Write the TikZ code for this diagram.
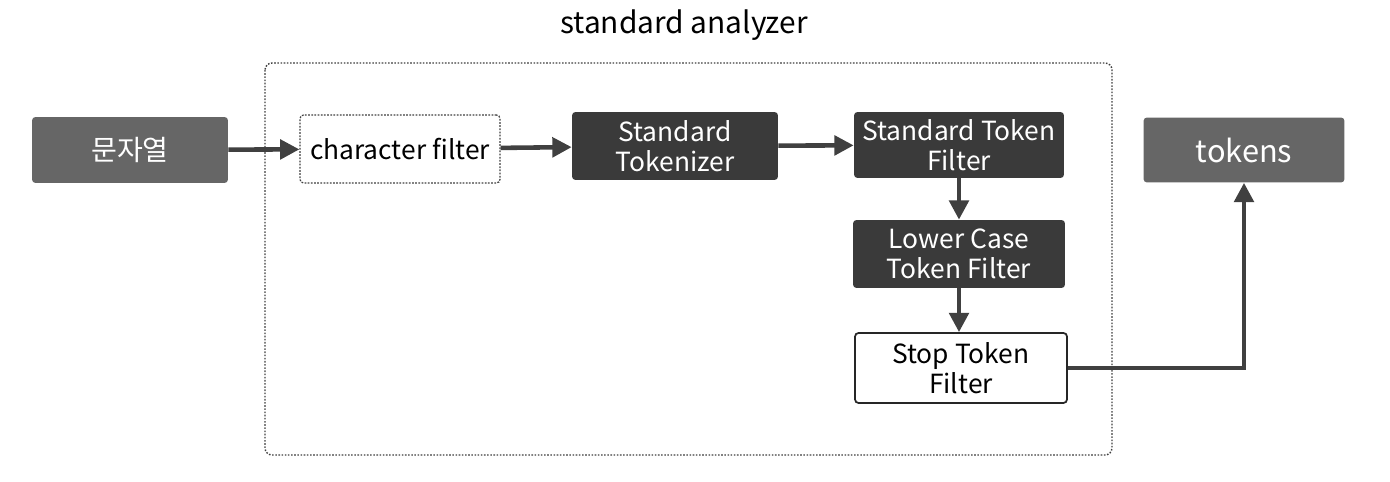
\documentclass[tikz,border=0pt]{standalone}
\usepackage{fontspec}
\setmainfont{Noto Sans CJK KR}
\usetikzlibrary{arrows.meta}
\definecolor{midgray}{HTML}{666666}
\definecolor{darkbox}{HTML}{3A3A3A}
\definecolor{linegray}{HTML}{404040}
\tikzset{
  box/.style={rounded corners=2pt, align=center, inner sep=0pt, font=\fontsize{15}{17.2}\selectfont},
  graybox/.style={box, fill=midgray, text=white},
  darkbx/.style={box, fill=darkbox, text=white},
  dotbox/.style={box, draw=linegray, line width=0.7pt, dash pattern=on 1pt off 0.8pt, fill=white},
  whitebox/.style={box, draw=black!85, line width=1pt, fill=white},
  flow/.style={draw=linegray, line width=2.6pt, -{Triangle[length=11pt,width=11pt]}},
}
\begin{document}
\begin{tikzpicture}[x=0.02cm,y=-0.02cm]
\useasboundingbox[fill=white] (0,0) rectangle (1390,482);
\draw[linegray, line width=0.8pt, dash pattern=on 0.9pt off 0.9pt, rounded corners=4pt] (265,63) rectangle (1112,455);
\node[font=\fontsize{17}{18}\selectfont] (title) at (684,25) {standard analyzer};
\node[graybox, font=\fontsize{16}{17}\selectfont, minimum width=3.92cm, minimum height=1.32cm] (str) at (130,150) {문자열};
\node[dotbox, minimum width=4.0cm, minimum height=1.36cm] (cf) at (400,149) {character filter};
\node[darkbx, minimum width=4.12cm, minimum height=1.36cm] (tok) at (675,146) {Standard\\Tokenizer};
\node[darkbx, minimum width=4.2cm, minimum height=1.32cm] (stf) at (959,145) {Standard Token\\Filter};
\node[darkbx, minimum width=4.24cm, minimum height=1.36cm] (lc) at (959,254) {Lower Case\\Token Filter};
\node[whitebox, minimum width=4.24cm, minimum height=1.4cm] (stop) at (961,368) {Stop Token\\Filter};
\node[graybox, font=\fontsize{17.5}{18}\selectfont, minimum width=4.02cm, minimum height=1.3cm] (tokens) at (1244,150) {tokens};
\draw[flow] (str) -- (cf);
\draw[flow] (cf) -- (tok);
\draw[flow] (tok) -- (stf);
\draw[flow] (stf.south) -- (lc.north);
\draw[flow] (lc.south) -- (lc.south |- stop.north);
\draw[flow] (stop.east) -| (tokens.south);
\end{tikzpicture}
\end{document}
